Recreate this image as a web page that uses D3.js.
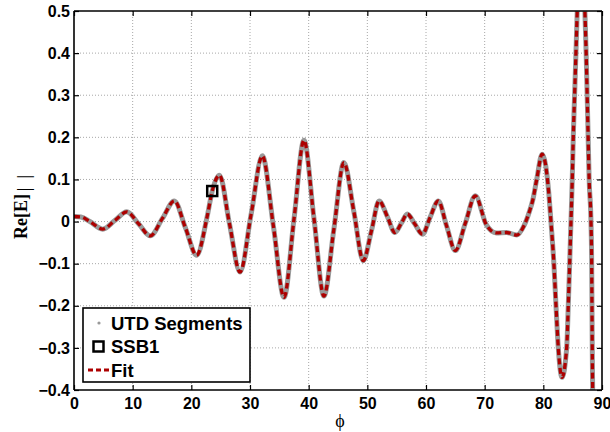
<!DOCTYPE html>
<html>
<head>
<meta charset="utf-8">
<script src="https://cdn.jsdelivr.net/npm/d3@7"></script>
<style>
  html, body { margin: 0; padding: 0; background: #fff; }
  #chart { width: 610px; height: 432px; }
</style>
</head>
<body>
<div id="chart"></div>
<script>
// Curve samples (phi in degrees, Re[E]|| value)
const phi = [0, 1.2, 2.7, 4.9, 7.0, 9.0, 11.0, 13.0, 15.1, 17.1, 19.0, 20.9, 22.7, 23.56, 24.8,
  26.5, 28.3, 30.2, 32.1, 34.0, 35.8, 37.5, 39.2, 40.9, 42.6, 44.3, 46.0, 47.7, 49.3,
  50.7, 52.0, 53.4, 54.7, 55.8, 56.8, 58.1, 59.4, 60.7, 62.1, 63.5, 65.0, 66.7, 68.4,
  70.3, 72.0, 73.7, 75.5, 76.7, 77.7, 78.2, 78.86, 79.8, 80.96, 81.3, 81.8, 82.16, 82.55, 83.18,
  83.98, 84.25, 84.49, 84.71, 84.93, 85.10, 85.33, 85.56, 85.78, 86.43,
  87.08, 87.30, 87.47, 87.64, 87.81, 88.12, 88.24, 88.29, 88.34, 88.41, 88.6];
const reE = [0.012, 0.011, 0.0, -0.018, 0.003, 0.023, -0.005, -0.034, 0.008, 0.049, -0.015, -0.080, 0.012, 0.0725, 0.110,
  -0.005, -0.120, 0.018, 0.156, -0.012, -0.180, 0.006, 0.193, 0.008, -0.177, -0.018, 0.140, 0.024, -0.093,
  -0.022, 0.049, 0.012, -0.026, -0.004, 0.018, -0.006, -0.030, 0.010, 0.049, -0.010, -0.069, -0.004, 0.061,
  -0.008, -0.027, -0.026, -0.032, -0.010, 0.027, 0.051, 0.099, 0.160, 0.063, 0.0, -0.1, -0.2, -0.3, -0.37,
  -0.3, -0.2, -0.1, 0.0, 0.1, 0.2, 0.3, 0.4, 0.5, 0.66,
  0.5, 0.4, 0.3, 0.2, 0.1, 0.0, -0.1, -0.2, -0.3, -0.4, -0.7];

const ssbPhi = [23.56];
const ssbRe = [0.0725];

const xTicks = [0, 10, 20, 30, 40, 50, 60, 70, 80, 90];
const yTicks = [-0.4, -0.3, -0.2, -0.1, 0, 0.1, 0.2, 0.3, 0.4, 0.5];
const legendLabels = ["UTD Segments", "SSB1", "Fit"];

const width = 610;
const height = 432;
const margin = { top: 11, right: 8, bottom: 42, left: 74 };

const svg = d3.select("#chart")
  .append("svg")
  .attr("width", width)
  .attr("height", height)
  .attr("viewBox", [0, 0, width, height])
  .style("display", "block");

const x = d3.scaleLinear().domain([0, 90]).range([margin.left, width - margin.right]);
const y = d3.scaleLinear().domain([-0.4, 0.5]).range([height - margin.bottom, margin.top]);

const fmtY = d => d === 0 ? "0" : d3.format(".1f")(d).replace("-", "\u2212");

// grid (dotted)
svg.append("g")
  .selectAll("line")
  .data(xTicks.slice(1, -1))
  .join("line")
  .attr("x1", d => x(d)).attr("x2", d => x(d))
  .attr("y1", y(0.5)).attr("y2", y(-0.4))
  .attr("stroke", "#a8a8a8")
  .attr("stroke-dasharray", "1,2");

svg.append("g")
  .selectAll("line")
  .data(yTicks.slice(1, -1))
  .join("line")
  .attr("y1", d => y(d)).attr("y2", d => y(d))
  .attr("x1", x(0)).attr("x2", x(90))
  .attr("stroke", "#a8a8a8")
  .attr("stroke-dasharray", "1,2");

// clip to plot box
svg.append("clipPath").attr("id", "plot-clip")
  .append("rect")
  .attr("x", x(0)).attr("y", y(0.5))
  .attr("width", x(90) - x(0)).attr("height", y(-0.4) - y(0.5));

const pts = phi.map((p, i) => [p, reE[i]]);
const line = d3.line()
  .x(d => x(d[0]))
  .y(d => y(d[1]))
  .curve(d3.curveMonotoneX);

const plot = svg.append("g").attr("clip-path", "url(#plot-clip)");

// UTD segments (dense gray dots -> thick gray trace)
plot.append("path")
  .datum(pts)
  .attr("d", line)
  .attr("fill", "none")
  .attr("stroke", "#999999")
  .attr("stroke-width", 5)
  .attr("stroke-linejoin", "round");

// Fit (red dashed)
plot.append("path")
  .datum(pts)
  .attr("d", line)
  .attr("fill", "none")
  .attr("stroke", "#ad0000")
  .attr("stroke-width", 3.3)
  .attr("stroke-dasharray", "6,3.5");

// SSB1 marker
svg.append("g")
  .selectAll("rect")
  .data(ssbPhi.map((p, i) => [p, ssbRe[i]]))
  .join("rect")
  .attr("x", d => x(d[0]) - 5)
  .attr("y", d => y(d[1]) - 5)
  .attr("width", 10)
  .attr("height", 10)
  .attr("fill", "none")
  .attr("stroke", "#000")
  .attr("stroke-width", 2.5);

// axes box with inward ticks on all sides
const tickLen = 5;
const axisColor = "#000";

const xAxisB = d3.axisBottom(x).tickValues(xTicks).tickSize(-tickLen).tickPadding(8).tickFormat(d3.format("d"));
const xAxisT = d3.axisTop(x).tickValues(xTicks).tickSize(-tickLen).tickFormat("");
const yAxisL = d3.axisLeft(y).tickValues(yTicks).tickSize(-tickLen).tickPadding(4).tickFormat(fmtY);
const yAxisR = d3.axisRight(y).tickValues(yTicks).tickSize(-tickLen).tickFormat("");

function styleAxis(g) {
  g.select(".domain").attr("stroke", axisColor).attr("stroke-width", 1.6);
  g.selectAll(".tick line").attr("stroke", axisColor).attr("stroke-width", 1.2);
  g.selectAll(".tick text")
    .attr("fill", "#000")
    .attr("font-family", "Liberation Sans, Arial, sans-serif")
    .attr("font-weight", "bold")
    .attr("font-size", 16);
}

svg.append("g").attr("transform", `translate(0,${y(-0.4)})`).call(xAxisB).call(styleAxis)
  .call(g => g.select(".domain").attr("d", `M${x(0)},0H${x(90)}`));
svg.append("g").attr("transform", `translate(0,${y(0.5)})`).call(xAxisT).call(styleAxis)
  .call(g => g.select(".domain").attr("d", `M${x(0)},0H${x(90)}`));
svg.append("g").attr("transform", `translate(${x(0)},0)`).call(yAxisL).call(styleAxis)
  .call(g => g.select(".domain").attr("d", `M0,${y(-0.4)}V${y(0.5)}`));
svg.append("g").attr("transform", `translate(${x(90)},0)`).call(yAxisR).call(styleAxis)
  .call(g => g.select(".domain").attr("d", `M0,${y(-0.4)}V${y(0.5)}`));

// axis labels
svg.append("text")
  .attr("x", (x(0) + x(90)) / 2 + 2)
  .attr("y", 427)
  .attr("text-anchor", "middle")
  .attr("font-family", "Liberation Serif, Times New Roman, serif")
  .attr("font-size", 18)
  .text("\u03D5");

const yLab = svg.append("text")
  .attr("transform", `translate(27,207) rotate(-90)`)
  .attr("text-anchor", "middle")
  .attr("font-family", "Liberation Serif, Times New Roman, serif")
  .attr("font-size", 18);
yLab.append("tspan").attr("font-weight", "bold").text("Re[E]");
yLab.append("tspan").attr("dy", 3).attr("dx", 3).text("|");
yLab.append("tspan").attr("dx", 9).text("|");

// legend
const legend = svg.append("g").attr("transform", "translate(83,308)");
legend.append("rect")
  .attr("width", 167)
  .attr("height", 74)
  .attr("fill", "#fff")
  .attr("stroke", "#000")
  .attr("stroke-width", 1.6);

const item = legend.selectAll(".legend-item")
  .data(legendLabels)
  .join("g")
  .attr("class", "legend-item")
  .attr("transform", (d, i) => `translate(0,${15 + i * 23.5})`);

item.append("text")
  .attr("x", 28)
  .attr("y", 6.5)
  .attr("font-family", "Liberation Sans, Arial, sans-serif")
  .attr("font-weight", "bold")
  .attr("font-size", 18.5)
  .attr("fill", "#000")
  .text(d => d);

item.filter((d, i) => i === 0).append("circle")
  .attr("cx", 16).attr("cy", 0).attr("r", 1.6).attr("fill", "#999999");
item.filter((d, i) => i === 1).append("rect")
  .attr("x", 10.5).attr("y", -5).attr("width", 10).attr("height", 10)
  .attr("fill", "none").attr("stroke", "#000").attr("stroke-width", 2.5);
item.filter((d, i) => i === 2).append("line")
  .attr("x1", 5).attr("x2", 26).attr("y1", 0).attr("y2", 0)
  .attr("stroke", "#ad0000").attr("stroke-width", 3).attr("stroke-dasharray", "5,3");
</script>
</body>
</html>
